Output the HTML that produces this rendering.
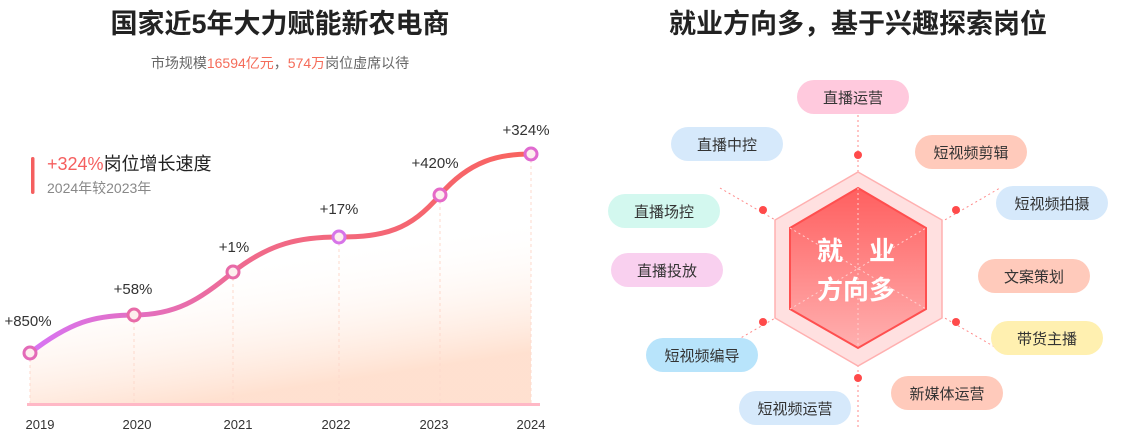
<!DOCTYPE html>
<html><head><meta charset="utf-8"><style>
body{margin:0;background:#fff;width:1130px;height:439px;overflow:hidden;font-family:"Liberation Sans","Noto Sans CJK SC",sans-serif}
</style></head><body>
<svg width="1130" height="439" viewBox="0 0 1130 439" xmlns="http://www.w3.org/2000/svg" font-family="Liberation Sans, Noto Sans CJK SC, sans-serif">
<defs>
<linearGradient id="ln" x1="30" y1="0" x2="531" y2="0" gradientUnits="userSpaceOnUse">
<stop offset="0" stop-color="#d774f5"/><stop offset="0.45" stop-color="#f06a8a"/><stop offset="1" stop-color="#f9635e"/></linearGradient>
<linearGradient id="ar" x1="0" y1="0" x2="0.3" y2="1"><stop offset="0" stop-color="#fff" stop-opacity="0"/><stop offset="0.5" stop-color="#fff" stop-opacity="0"/><stop offset="1" stop-color="#ffd9c4" stop-opacity="0.8"/></linearGradient>
<linearGradient id="hx" x1="0" y1="0" x2="0" y2="1"><stop offset="0" stop-color="#ff5f5f"/><stop offset="1" stop-color="#ffb0b0"/></linearGradient>
</defs>
<text x="280" y="33" text-anchor="middle" font-size="27" font-weight="bold" fill="#222">国家近5年大力赋能新农电商</text>
<text x="280" y="68" text-anchor="middle" font-size="14" fill="#666">市场规模<tspan fill="#f56c5a">16594亿元</tspan>，<tspan fill="#f56c5a">574万</tspan>岗位虚席以待</text>
<text x="858" y="33" text-anchor="middle" font-size="27" font-weight="bold" fill="#222">就业方向多，基于兴趣探索岗位</text>
<path d="M30,353 C70,322 95,315 134,315 C175,315 200,300 233,272 C270,243 300,237 339,237 C385,237 410,230 440,195 C470,160 500,154 531,154 L531,405 L30,405 Z" fill="url(#ar)"/>
<g stroke="#fdd9cc" stroke-dasharray="3,3" stroke-width="1">
<line x1="30" y1="353" x2="30" y2="405"/><line x1="134" y1="315" x2="134" y2="405"/><line x1="233" y1="272" x2="233" y2="405"/><line x1="339" y1="237" x2="339" y2="405"/><line x1="440" y1="195" x2="440" y2="405"/><line x1="531" y1="154" x2="531" y2="405"/></g>
<rect x="27" y="403" width="513" height="3" fill="#ffb8c6"/>
<path d="M30,353 C70,322 95,315 134,315 C175,315 200,300 233,272 C270,243 300,237 339,237 C385,237 410,230 440,195 C470,160 500,154 531,154" fill="none" stroke="url(#ln)" stroke-width="5"/>
<g fill="#fdeeee" stroke-width="3">
<circle cx="30" cy="353" r="6" stroke="#e36ab8"/><circle cx="134" cy="315" r="6" stroke="#e86aa8"/><circle cx="233" cy="272" r="6" stroke="#e86aa8"/><circle cx="339" cy="237" r="6" stroke="#d774e8"/><circle cx="440" cy="195" r="6" stroke="#e56ac8"/><circle cx="531" cy="154" r="6" stroke="#e06ad0"/></g>
<g font-size="15" fill="#333" text-anchor="middle">
<text x="28" y="326">+850%</text><text x="133" y="294">+58%</text><text x="234" y="252">+1%</text><text x="339" y="214">+17%</text><text x="435" y="168">+420%</text><text x="526" y="135">+324%</text></g>
<g font-size="13" fill="#333" text-anchor="middle">
<text x="40" y="429">2019</text><text x="137" y="429">2020</text><text x="238" y="429">2021</text><text x="336" y="429">2022</text><text x="434" y="429">2023</text><text x="531" y="429">2024</text></g>
<rect x="31" y="157" width="3.5" height="37" rx="1.7" fill="#f55f5f"/>
<text x="47" y="170" font-size="18" fill="#222"><tspan fill="#f55f5f">+324%</tspan>岗位增长速度</text>
<text x="47" y="193" font-size="14" fill="#888">2024年较2023年</text>
<g stroke="#ff8a8a" stroke-dasharray="2,3" stroke-width="1" fill="none">
<line x1="858" y1="100" x2="858" y2="430"/>
<line x1="720" y1="188" x2="1000" y2="350"/><line x1="720" y1="350" x2="1000" y2="188"/></g>
<polygon points="858,172 942,220 942,318 858,366 775,318 775,220" fill="#ffe0e0" stroke="#ffb0b0" stroke-width="1.5"/>
<polygon points="858,188 926,228 926,309 858,348 790,309 790,228" fill="url(#hx)" stroke="#ff4f4f" stroke-width="2"/>
<g stroke="#ffd0d0" stroke-dasharray="2,3" stroke-width="1"><line x1="858" y1="188" x2="858" y2="348"/><line x1="790" y1="228" x2="926" y2="309"/><line x1="790" y1="309" x2="926" y2="228"/></g>
<g font-size="26" font-weight="bold" fill="#fff" text-anchor="middle"><text x="830" y="260">就</text><text x="882" y="260">业</text><text x="856" y="299">方向多</text></g>
<g fill="#ff4a4a"><circle cx="858" cy="155" r="4"/><circle cx="956" cy="210" r="4"/><circle cx="956" cy="322" r="4"/><circle cx="858" cy="378" r="4"/><circle cx="763" cy="322" r="4"/><circle cx="763" cy="210" r="4"/></g>
<g font-size="15" fill="#333" text-anchor="middle">
<rect x="797" y="80" width="112" height="34" rx="17" fill="#ffc9dd"/><text x="853" y="103">直播运营</text>
<rect x="671" y="127" width="112" height="34" rx="17" fill="#d6e9fb"/><text x="727" y="150">直播中控</text>
<rect x="915" y="135" width="112" height="34" rx="17" fill="#ffcabb"/><text x="971" y="158">短视频剪辑</text>
<rect x="608" y="194" width="112" height="34" rx="17" fill="#d3f8ef"/><text x="664" y="217">直播场控</text>
<rect x="996" y="186" width="112" height="34" rx="17" fill="#d6e9fb"/><text x="1052" y="209">短视频拍摄</text>
<rect x="611" y="253" width="112" height="34" rx="17" fill="#f9d0ef"/><text x="667" y="276">直播投放</text>
<rect x="978" y="259" width="112" height="34" rx="17" fill="#ffcabb"/><text x="1034" y="282">文案策划</text>
<rect x="646" y="338" width="112" height="34" rx="17" fill="#b8e4fb"/><text x="702" y="361">短视频编导</text>
<rect x="991" y="321" width="112" height="34" rx="17" fill="#fff0b0"/><text x="1047" y="344">带货主播</text>
<rect x="739" y="391" width="112" height="34" rx="17" fill="#d6e9fb"/><text x="795" y="414">短视频运营</text>
<rect x="891" y="376" width="112" height="34" rx="17" fill="#ffcabb"/><text x="947" y="399">新媒体运营</text>
</g>
</svg>
</body></html>
